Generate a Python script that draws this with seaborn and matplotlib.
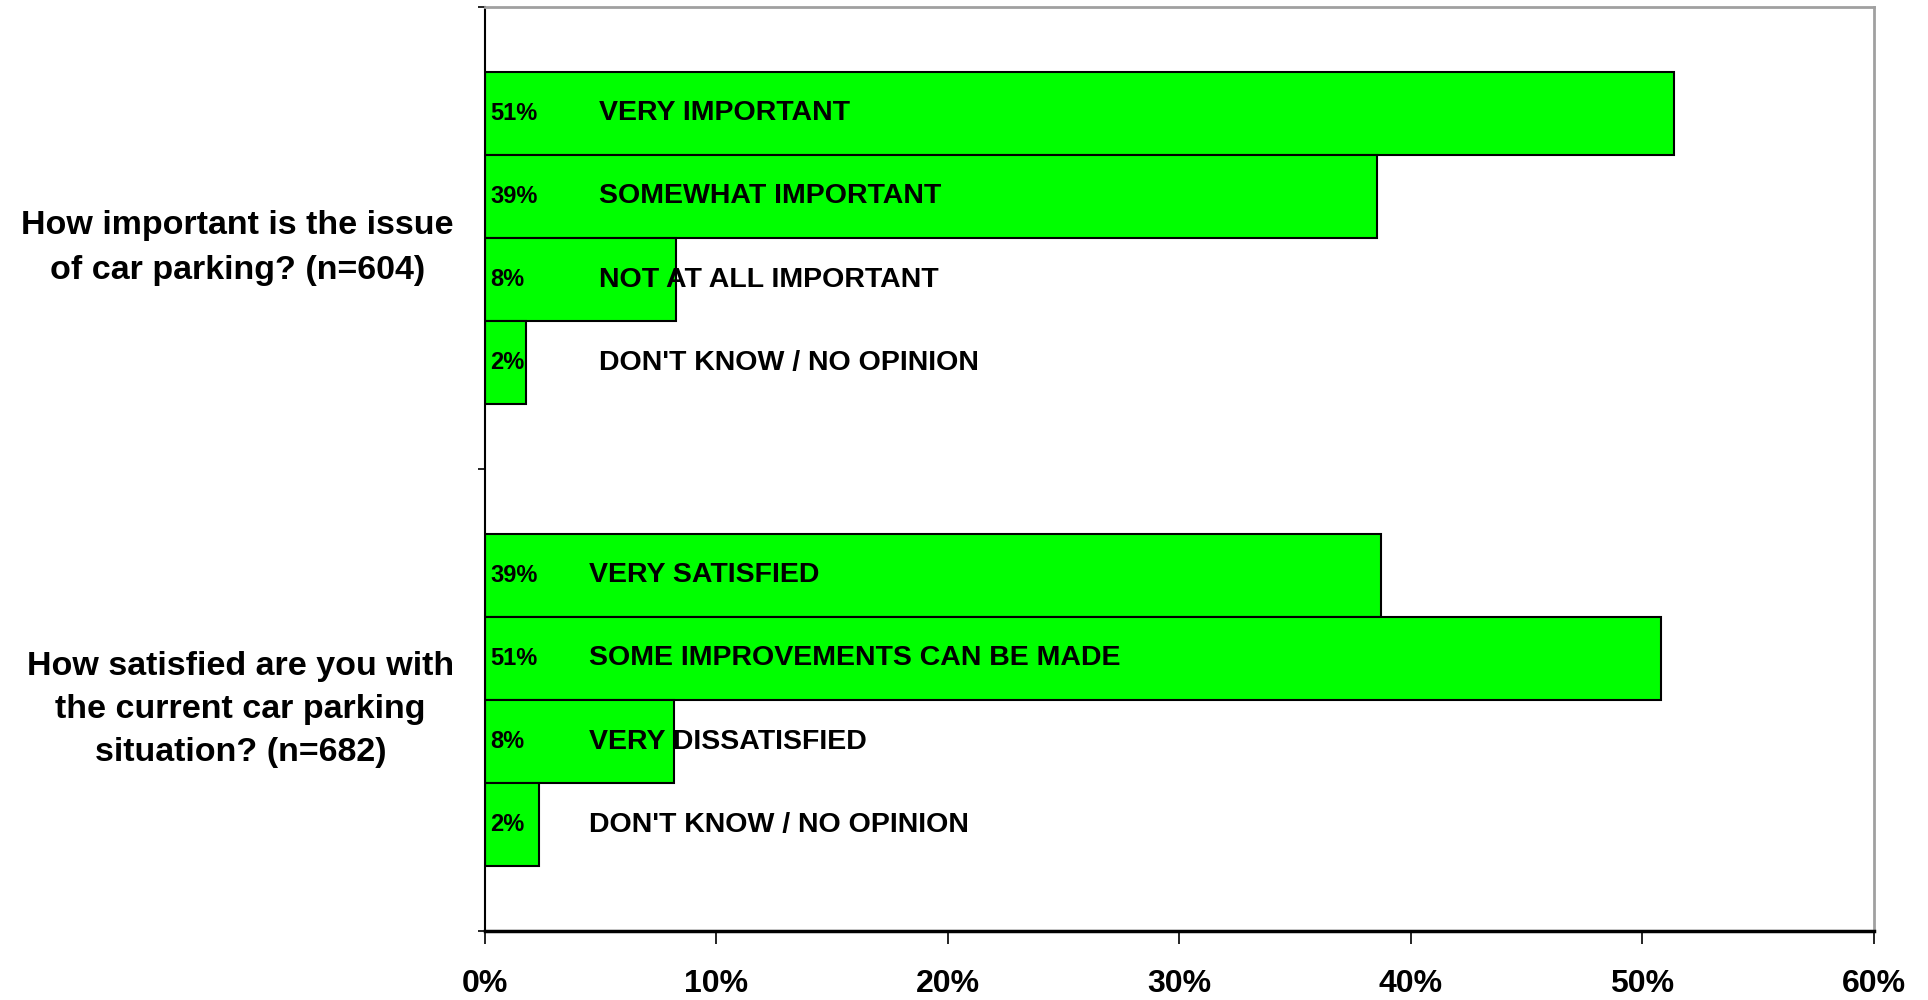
import numpy as np
import pandas as pd
import seaborn as sns
import matplotlib.pyplot as plt

# datos
preguntas = ["How important is the issue\nof car parking? (n=604)",
             "How satisfied are you with\nthe current car parking\nsituation? (n=682)"]
respuestas_1 = ["VERY IMPORTANT", "SOMEWHAT IMPORTANT", "NOT AT ALL IMPORTANT",
                "DON'T KNOW / NO OPINION"]
respuestas_2 = ["VERY SATISFIED", "SOME IMPROVEMENTS CAN BE MADE", "VERY DISSATISFIED",
                "DON'T KNOW / NO OPINION"]
valores_1 = [51.35, 38.55, 8.28, 1.8]
valores_2 = [38.7, 50.8, 8.18, 2.34]
ticks_x = [0, 10, 20, 30, 40, 50, 60]

sns.set_style("white")
plt.rcParams['font.family'] = ['Liberation Sans', 'DejaVu Sans']
plt.rcParams['text.color'] = 'black'
plt.rcParams['xtick.color'] = 'black'
plt.rcParams['ytick.color'] = 'black'

filas = []
for i in range(4):
    filas.append({"pregunta": preguntas[0], "orden": str(i), "valor": valores_1[i],
                  "respuesta": respuestas_1[i]})
    filas.append({"pregunta": preguntas[1], "orden": str(i), "valor": valores_2[i],
                  "respuesta": respuestas_2[i]})
df = pd.DataFrame(filas)

fig = plt.figure(figsize=(19.28, 10), dpi=100)
ax = fig.add_axes([0.2513, 0.069, 0.7207, 0.924])

sns.barplot(data=df, x="valor", y="pregunta", hue="orden", order=preguntas,
            hue_order=["0", "1", "2", "3"], palette=["#00FF00"] * 4, saturation=1,
            edgecolor="black", linewidth=1.5, width=0.72, orient="h",
            legend=False, ax=ax)

# etiquetas dentro de las barras
respuestas = [respuestas_1, respuestas_2]
for i, cont in enumerate(ax.containers):
    for j, barra in enumerate(cont):
        yc = barra.get_y() + barra.get_height() / 2
        ax.text(0.25, yc, f"{round(barra.get_width())}%", ha="left", va="center",
                fontsize=17, fontweight="bold", color="black")
        xr = 4.95 if j == 0 else 4.5
        ax.text(xr, yc, respuestas[j][i], ha="left", va="center",
                fontsize=20.5, fontweight="bold", color="black")

ax.set_xlim(0, 60)
ax.set_ylim(1.5, -0.5)
ax.set_xticks(ticks_x)
ax.set_xticklabels([f"{t}%" for t in ticks_x], fontsize=23, fontweight="bold")
ax.tick_params(axis="x", direction="out", length=9, width=1.2, pad=18, bottom=True)

ax.set_yticks([0, 1])
ax.set_yticklabels(preguntas, fontsize=24.5, fontweight="bold")
for k, t in enumerate(ax.get_yticklabels()):
    t.set_multialignment("center")
    t.set_linespacing(1.55 if k == 0 else 1.5)
ax.tick_params(axis="y", which="major", length=0, pad=22)
ax.set_yticks([-0.5, 0.5, 1.5], minor=True)
ax.tick_params(axis="y", which="minor", direction="out", length=5, width=1.2, left=True)

ax.set_xlabel("")
ax.set_ylabel("")
ax.spines["left"].set_color("black")
ax.spines["left"].set_linewidth(1.5)
ax.spines["bottom"].set_color("black")
ax.spines["bottom"].set_linewidth(2.5)
for lado in ["top", "right"]:
    ax.spines[lado].set_color("#A0A0A0")
    ax.spines[lado].set_linewidth(2)

plt.savefig("out.png", dpi=100)
